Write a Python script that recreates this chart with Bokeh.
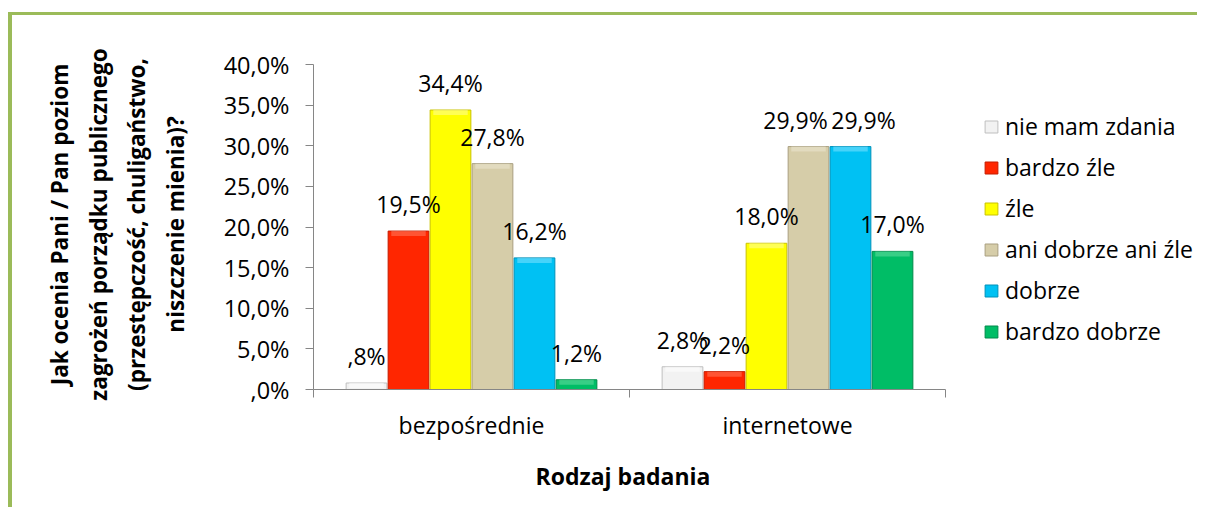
from bokeh.plotting import figure
from bokeh.models import (Range1d, FixedTicker, LinearAxis, Legend, LegendItem,
                          LabelSet, Title, ColumnDataSource)
from bokeh.core.properties import value
from bokeh.embed import file_html
from bokeh.resources import INLINE

# ---------------- data ----------------
categories = ["bezpośrednie", "internetowe"]
series_names = ["nie mam zdania", "bardzo źle", "źle", "ani dobrze ani źle",
                "dobrze", "bardzo dobrze"]
nie_mam_zdania = [0.8, 2.8]
bardzo_zle = [19.5, 2.2]
zle = [34.4, 18.0]
ani_dobrze_ani_zle = [27.8, 29.9]
dobrze = [16.2, 29.9]
bardzo_dobrze = [1.2, 17.0]
series_values = [nie_mam_zdania, bardzo_zle, zle, ani_dobrze_ani_zle, dobrze, bardzo_dobrze]

y_ticks = [0, 5, 10, 15, 20, 25, 30, 35, 40]
y_tick_labels = [",0%", "5,0%", "10,0%", "15,0%", "20,0%", "25,0%", "30,0%", "35,0%", "40,0%"]
y_title = ("Jak ocenia Pani / Pan poziom\nzagrożeń porządku publicznego\n"
           "(przestępczość, chuligaństwo,\nniszczenie mienia)?")
x_title = "Rodzaj badania"

fills = ["#f2f2f2", "#ff2600", "#ffff00", "#d6cda9", "#00c1f3", "#00bd66"]
edges = ["#bfbfbf", "#c41c00", "#c9c200", "#a99f80", "#0091b9", "#008a4a"]
lights = ["#ffffff", "#ff7a5c", "#ffff9a", "#ede7d1", "#80e2ff", "#66dda0"]

FONT = "Open Sans"
AXIS_COL = "#868686"

# ---------------- layout ----------------
W, H = 1189, 495
frame_left, frame_top, frame_bottom = 301, 44, 374
px_per_cat = 316.0
px_per_unit_y = 325.0 / 40.0
x_start = -0.5
x_end = x_start + (W - frame_left) / px_per_cat
y_end = (frame_bottom - frame_top) / px_per_unit_y
bar_w = 42.0 / px_per_cat
# horizontal nudges (px) of data labels that would otherwise collide: (series, category)
label_nudge = {(3, 1): -13, (4, 1): 13}

p = figure(width=W, height=H, x_range=Range1d(x_start, x_end), y_range=Range1d(0, y_end),
           output_backend="svg", toolbar_location=None, x_axis_type=None, y_axis_type=None,
           min_border_left=frame_left, min_border_right=0, min_border_top=frame_top,
           min_border_bottom=H - frame_bottom, outline_line_color=None,
           background_fill_color="white", border_fill_color="white")
p.styles = {"border-left": "4px solid #9bbb59", "border-top": "3px solid #9bbb59",
            "margin-top": "12px", "margin-left": "8px"}

# axes
xaxis = LinearAxis(ticker=FixedTicker(ticks=[0, 1], minor_ticks=[-0.5, 0.5, 1.5]),
                   bounds=(-0.5, 1.5))
xaxis.major_label_overrides = {i: c for i, c in enumerate(categories)}
xaxis.axis_line_color = AXIS_COL
xaxis.major_tick_line_color = None
xaxis.major_tick_out = 0
xaxis.major_tick_in = 0
xaxis.minor_tick_line_color = AXIS_COL
xaxis.minor_tick_out = 8
xaxis.minor_tick_in = 0
xaxis.major_label_standoff = 11
xaxis.major_label_text_font = FONT
xaxis.major_label_text_font_size = "23px"
xaxis.major_label_text_color = "black"
p.add_layout(xaxis, "below")

# x axis title, placed under the category axis
xt = Title(text=x_title, align="left", offset=222, vertical_align="top", standoff=32,
           text_font=FONT, text_font_size="23px", text_font_style="bold",
           text_color="black")
p.add_layout(xt, "below")

yaxis = LinearAxis(ticker=FixedTicker(ticks=y_ticks, minor_ticks=[]), bounds=(0, 40))
yaxis.major_label_overrides = dict(zip(y_ticks, y_tick_labels))
yaxis.axis_line_color = AXIS_COL
yaxis.major_tick_line_color = AXIS_COL
yaxis.major_tick_out = 8
yaxis.major_tick_in = 0
yaxis.minor_tick_line_color = None
yaxis.major_label_standoff = 16
yaxis.major_label_text_font = FONT
yaxis.major_label_text_font_size = "23.5px"
yaxis.major_label_text_color = "black"
p.add_layout(yaxis, "left")

tyaxis = LinearAxis(ticker=FixedTicker(ticks=[], minor_ticks=[]))
tyaxis.axis_line_color = None
tyaxis.major_tick_line_color = None
tyaxis.minor_tick_line_color = None
tyaxis.major_label_text_font_size = "0px"
tyaxis.axis_label = y_title
tyaxis.axis_label_text_font = FONT
tyaxis.axis_label_text_font_size = "22.5px"
tyaxis.axis_label_text_font_style = "bold"
tyaxis.axis_label_text_color = "black"
tyaxis.axis_label_text_line_height = 1.24
tyaxis.axis_label_standoff = 30
p.add_layout(tyaxis, "left")

# bars
legend_items = []
ypx = 1.0 / px_per_unit_y
for i, (name, vals) in enumerate(zip(series_names, series_values)):
    xs = [c + (i - 2.5) * bar_w for c in range(len(categories))]
    src = ColumnDataSource(dict(x=xs, top=vals,
                                hl_bottom=[max(v - 5 * ypx, 0) for v in vals],
                                dx=[label_nudge.get((i, c), 0) for c in range(len(categories))],
                                label=[("%.1f" % v).replace(".", ",").lstrip("0") + "%" for v in vals]))
    r = p.vbar(x="x", top="top", bottom=0, width=bar_w * 0.97, source=src,
               fill_color=fills[i], line_color=edges[i], line_width=1)
    p.vbar(x="x", top="top", bottom="hl_bottom", width=bar_w * 0.82, source=src,
           fill_color=lights[i], fill_alpha=0.55, line_color=None)
    legend_items.append(LegendItem(label=name, renderers=[r]))
    labels = LabelSet(x="x", y="top", text="label", source=src, y_offset=27, x_offset="dx",
                      text_align="center", text_baseline="middle",
                      text_font=value(FONT), text_font_size=value("23px"),
                      text_color="black")
    p.add_layout(labels)

legend = Legend(items=legend_items, location=(670, 42), orientation="vertical",
                glyph_width=16, glyph_height=15, label_standoff=6, label_height=30,
                spacing=9, padding=0, margin=0, border_line_color=None,
                background_fill_alpha=0, label_text_font=FONT,
                label_text_font_size="23px", label_text_color="black")
p.add_layout(legend)

open("out.html", "w").write(file_html(p, INLINE))
